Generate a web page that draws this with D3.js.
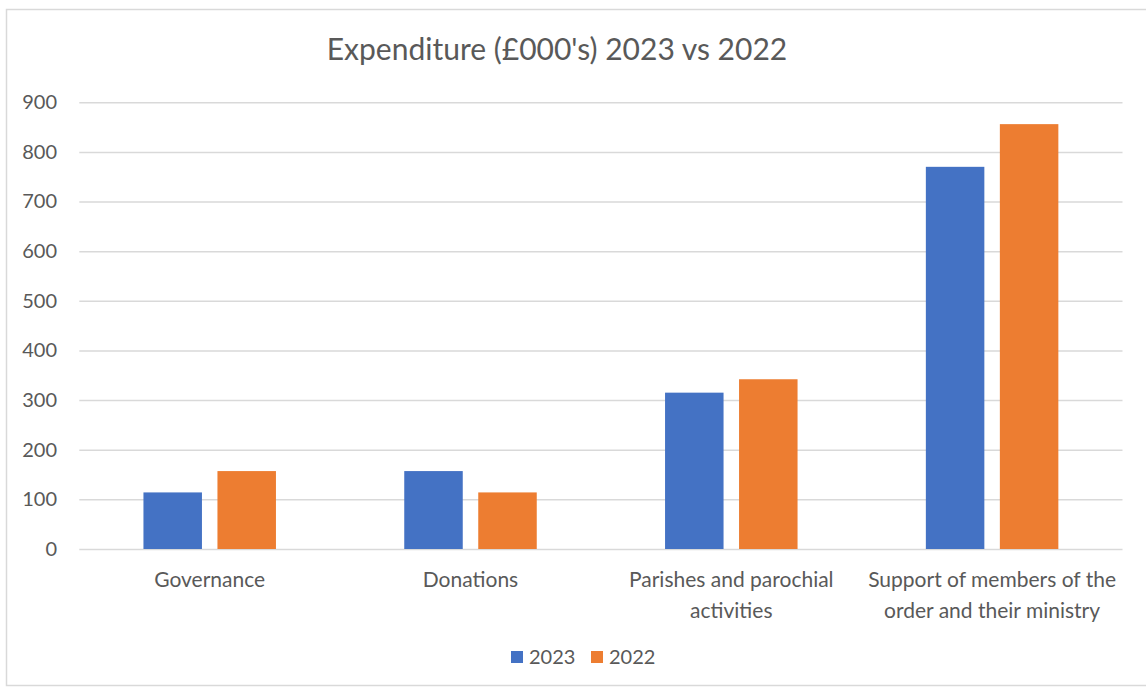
<!DOCTYPE html>
<html>
<head>
<meta charset="utf-8">
<script src="https://cdn.jsdelivr.net/npm/d3@7"></script>
<style>
  html, body { margin: 0; padding: 0; background: #ffffff; }
  svg { display: block; }
  text { font-family: Lato, "Open Sans", "Liberation Sans", sans-serif; fill: #595959; }
</style>
</head>
<body>
<svg id="chart" width="1146" height="689"></svg>
<script>
// Expenditure by category, in £000's
const categories = [
  ["Governance"],
  ["Donations"],
  ["Parishes and parochial", "activities"],
  ["Support of members of the", "order and their ministry"]
];
const seriesNames = ["2023", "2022"];
const values2023 = [114, 157, 315, 770];
const values2022 = [157, 114, 342, 856];
const yTicks = [0, 100, 200, 300, 400, 500, 600, 700, 800, 900];
const colors = ["#4472C4", "#ED7D31"];

const svg = d3.select("#chart");
const W = 1146, H = 689;

// outer chart frame
svg.append("rect")
  .attr("x", 6.5).attr("y", 9.5)
  .attr("width", W + 10).attr("height", 676)
  .attr("fill", "#ffffff")
  .attr("stroke", "#d9d9d9")
  .attr("stroke-width", 1.5);

const plot = { left: 79.3, right: 1122.5, top: 102.3, bottom: 549 };

const x0 = d3.scaleBand()
  .domain(d3.range(categories.length))
  .range([plot.left, plot.right])
  .paddingInner(0).paddingOuter(0);

const groupWidth = 132.5;
const x1 = d3.scaleBand()
  .domain(seriesNames)
  .range([0, groupWidth])
  .paddingInner(0.2095)
  .paddingOuter(0);

const y = d3.scaleLinear()
  .domain([0, 900])
  .range([plot.bottom, plot.top]);

// gridlines + y tick labels
const yAxis = d3.axisLeft(y)
  .tickValues(yTicks)
  .tickSize(-(plot.right - plot.left))
  .tickPadding(22);

const gy = svg.append("g")
  .attr("transform", `translate(${plot.left},0)`)
  .call(yAxis);
gy.select(".domain").remove();
gy.selectAll(".tick line")
  .attr("stroke", "#d9d9d9")
  .attr("stroke-width", 1.5);
gy.selectAll(".tick text")
  .attr("x", 57 - plot.left)
  .attr("text-anchor", "end")
  .style("font-family", "Lato, 'Open Sans', sans-serif")
  .style("font-size", "20px")
  .style("fill", "#595959");

// bars
const data = categories.map((c, i) => ({
  i,
  vals: [
    { key: seriesNames[0], v: values2023[i], color: colors[0] },
    { key: seriesNames[1], v: values2022[i], color: colors[1] }
  ]
}));

const groups = svg.append("g").selectAll("g")
  .data(data)
  .join("g")
  .attr("transform", d => `translate(${x0(d.i) + (x0.bandwidth() - groupWidth) / 2},0)`);

groups.selectAll("rect")
  .data(d => d.vals)
  .join("rect")
  .attr("x", d => x1(d.key))
  .attr("width", x1.bandwidth())
  .attr("y", d => y(d.v))
  .attr("height", d => y(0) - y(d.v))
  .attr("fill", d => d.color);

// category labels
const xAxis = d3.axisBottom(x0).tickSize(0).tickFormat(() => "");
const gx = svg.append("g")
  .attr("transform", `translate(0,${plot.bottom})`)
  .call(xAxis);
gx.select(".domain").remove();

const catLabels = svg.append("g").selectAll("text")
  .data(categories)
  .join("text")
  .attr("x", (d, i) => x0(i) + x0.bandwidth() / 2)
  .attr("y", 587)
  .attr("text-anchor", "middle")
  .style("font-size", "21px");
catLabels.selectAll("tspan")
  .data(d => d)
  .join("tspan")
  .attr("x", function () { return d3.select(this.parentNode).attr("x"); })
  .attr("dy", (d, j) => j === 0 ? 0 : 31)
  .text(d => d);

// title
svg.append("text")
  .attr("x", 557)
  .attr("y", 59.5)
  .attr("text-anchor", "middle")
  .style("font-size", "30px")
  .text("Expenditure (£000's) 2023 vs 2022");

// legend
const legendItems = [
  { name: seriesNames[0], color: colors[0], x: 511 },
  { name: seriesNames[1], color: colors[1], x: 591 }
];
const lg = svg.append("g").selectAll("g")
  .data(legendItems)
  .join("g")
  .attr("transform", d => `translate(${d.x},0)`);
lg.append("rect")
  .attr("x", 0).attr("y", 651)
  .attr("width", 12).attr("height", 12)
  .attr("fill", d => d.color);
lg.append("text")
  .attr("x", 18).attr("y", 663.5)
  .style("font-size", "20px")
  .text(d => d.name);
</script>
</body>
</html>
